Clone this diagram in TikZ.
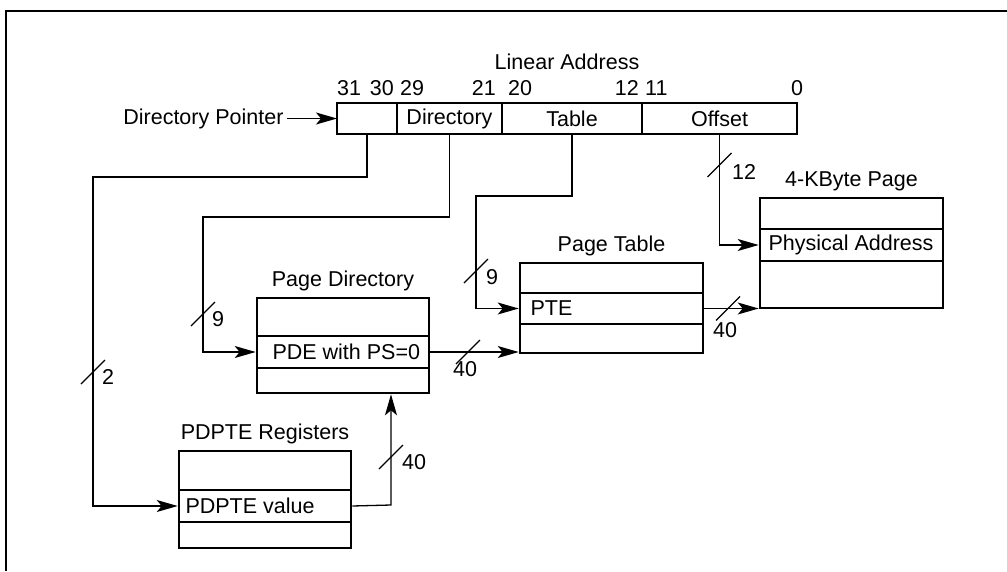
\documentclass[tikz,border=0pt]{standalone}
\usepackage{fontspec}
\setmainfont{Liberation Sans}
\usetikzlibrary{positioning,arrows.meta}

\tikzset{
  every node/.style={font=\fontsize{21.5}{25}\selectfont},
  field/.style={draw, line width=1.2pt, minimum height=31pt, inner sep=0pt, outer sep=0pt},
  tbl/.style={draw, line width=2.6pt, inner sep=0pt},
  bit/.style={inner xsep=3pt, inner ysep=0pt, yshift=7pt},
  conn/.style={line width=1.3pt},
  arr/.style={conn, -{Stealth[length=21pt, width=12pt, inset=5pt]}},
}

\begin{document}
\begin{tikzpicture}[x=1pt, y=-1pt]
        \useasboundingbox (0,0) rectangle (1007,571);
        % Moldura
        \draw[line width=2.5pt] (6,571) -- (6,11) -- (1007,11);
        % Endereco linear
        \node (la) at (567,62) {Linear Address};
        \node[field, minimum width=60pt] (ptr) at (367,118.5) {};
        \node[field, minimum width=105pt, right=0pt of ptr] (dir) {Directory};
        \node[field, minimum width=140pt, right=0pt of dir] (tbl) {Table};
        \node[field, minimum width=155pt, right=0pt of tbl] (off) {Offset};
        \draw[line width=2.6pt] (ptr.north west) rectangle (off.south east);
        \node[bit, anchor=south west, xshift=-3pt] (bit31) at (ptr.north west) {31};
        \node[bit, anchor=south east] (bit30) at (ptr.north east) {30};
        \node[bit, anchor=south west] (bit29) at (dir.north west) {29};
        \node[bit, anchor=south east, xshift=-3pt] (bit21) at (dir.north east) {21};
        \node[bit, anchor=south west, xshift=3pt] (bit20) at (tbl.north west) {20};
        \node[bit, anchor=south east] (bit12) at (tbl.north east) {12};
        \node[bit, anchor=south west] (bit11) at (off.north west) {11};
        \node[bit, anchor=south] (bit0) at (off.north east) {0};
        \node[left=50pt of ptr] (dp) {Directory Pointer};
        \draw[arr] (dp) -- (ptr);
        % Registradores PDPTE
        \node[tbl, minimum width=172pt, minimum height=97pt] (pdp) at (265,499.5) {};
        \node[above=2pt] (pdpT) at (pdp.north) {PDPTE Registers};
        \draw[conn] (179,490) -- (351,490) (179,522) -- (351,522);
        \node[anchor=west] (pv) at (182,506) {PDPTE value};
        % Diretorio de paginas
        \node[tbl, minimum width=172pt, minimum height=95pt] (pd) at (343,345.5) {};
        \node[above=2pt] (pdT) at (pd.north) {Page Directory};
        \draw[conn] (257,336) -- (429,336) (257,368) -- (429,368);
        \node[anchor=west] (pde) at (269,352) {PDE with PS=0};
        % Tabela de paginas
        \node[tbl, minimum width=183pt, minimum height=90pt] (pt) at (611.5,308) {};
        \node[above=2pt] (ptT) at (pt.north) {Page Table};
        \draw[conn] (520,293) -- (703,293) (520,324) -- (703,324);
        \node[anchor=west] (pte) at (527,308.5) {PTE};
        % Pagina de 4 KB
        \node[tbl, minimum width=183pt, minimum height=110pt] (pg) at (851.5,253) {};
        \node[above=2pt] (pgT) at (pg.north) {4-KByte Page};
        \draw[conn] (760,229) -- (943,229) (760,261) -- (943,261);
        \node[anchor=west] (pa) at (765,245) {Physical Address};
        % Ligacoes
        \coordinate (turnA) at (93,177);
        \coordinate (turnB) at (203,217);
        \coordinate (turnC) at (476,196);
        \coordinate (turnD) at (391,505);
        \draw[arr] (ptr.south) |- (turnA) |- (pv -| pdp.west);
        \draw[arr] (dir.south) |- (turnB) |- (pde -| pd.west);
        \draw[arr] (tbl.south) |- (turnC) |- (pte -| pt.west);
        \draw[arr] (off.south) |- (pa -| pg.west);
        \draw[arr] (pd.east |- pde) -- (pt.west |- pde);
        \draw[arr] (pt.east |- pte) -- (pg.west |- pte);
        \draw[arr] (pdp.east |- pv) -- (turnD) -- (turnD |- pd.south);
        % Marcas de largura
        \coordinate (m2) at (93,372);
        \coordinate (m9a) at (203,314);
        \coordinate (m9b) at (476,271);
        \coordinate (m12) at (719.5,165);
        \coordinate (m40a) at (468,352);
        \coordinate (m40b) at (728,308.5);
        \coordinate (m40c) at (391,457);
        \draw[conn] (m2) ++(-12,12) -- ++(24,-24);
        \draw[conn] (m9a) ++(-12,12) -- ++(24,-24);
        \draw[conn] (m9b) ++(-12,12) -- ++(24,-24);
        \draw[conn] (m12) ++(-12,12) -- ++(24,-24);
        \draw[conn] (m40a) ++(-12,12) -- ++(24,-24);
        \draw[conn] (m40b) ++(-12,12) -- ++(24,-24);
        \draw[conn] (m40c) ++(-12,12) -- ++(24,-24);
        \node (w2) at (108,377) {2};
        \node (w9a) at (218,319) {9};
        \node (w9b) at (492,277) {9};
        \node (w12) at (744,172) {12};
        \node (w40a) at (465,369) {40};
        \node (w40b) at (725,330) {40};
        \node (w40c) at (414,462) {40};
    \end{tikzpicture}
\end{document}
